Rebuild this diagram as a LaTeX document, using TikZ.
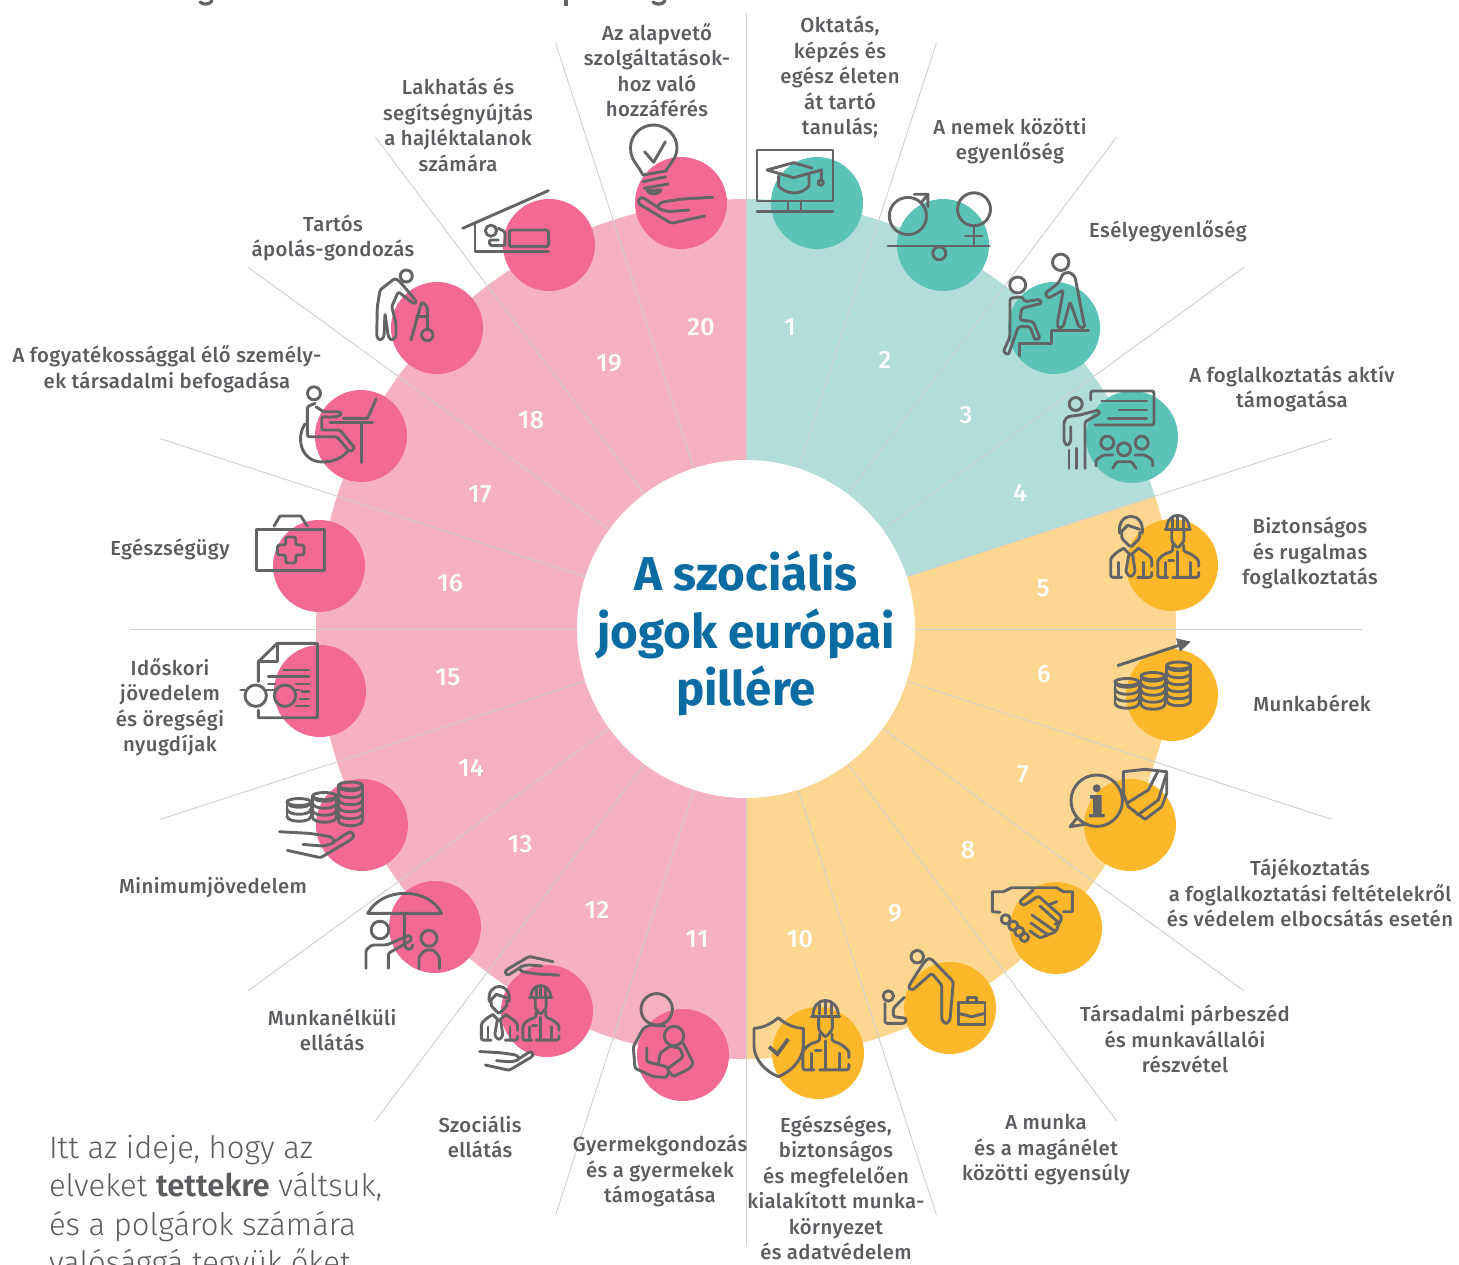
\documentclass[tikz,border=0pt]{standalone}
\usepackage{fontspec}
\setmainfont{Fira Sans}
\newfontfamily\lightfont{Fira Sans Light}[BoldFont={Fira Sans SemiBold}]
\newfontfamily\labfont{Fira Sans Medium}[LetterSpace=2]
\definecolor{pinklt}{HTML}{F5B0C2}
\definecolor{pinkdk}{HTML}{F26A94}
\definecolor{teallt}{HTML}{B2DDD8}
\definecolor{tealdk}{HTML}{5CC3B9}
\definecolor{yellt}{HTML}{FDD792}
\definecolor{yeldk}{HTML}{FDB72A}
\definecolor{icongrey}{HTML}{636466}
\definecolor{txtgrey}{HTML}{5C5C60}
\definecolor{rayline}{HTML}{CFCFCF}
\definecolor{titleblue}{HTML}{0A6CA3}
\tikzset{
  ic/.style={draw=icongrey,line width=2.9pt,line cap=round,line join=round},
  fig/.style={ic,rounded corners=2.2pt},
  bub/.style={inner sep=0pt,outer sep=0pt},
  lab/.style={inner sep=0pt,outer sep=0pt,align=center,text=txtgrey,font=\labfont\fontsize{20.3}{25.5}\selectfont},
  num/.style={inner sep=0pt,outer sep=0pt,text=white,font=\labfont\fontsize{25}{25}\selectfont},
  ray/.style={draw=rayline,line width=.9pt},
  pics/hand/.style={code={
    \draw[fig] (40.5,-12.7) -- (10,-11) -- (-11.3,-7.7) -- (-15,-2) -- (-4,1.7) -- (17,0);
    \draw[fig] (-15,-3.3) -- (-30,-13) -- (-34,-10) -- (-33,-6) -- (-0.6,13.3) -- (32.6,6);
  }},
  pics/worker/.style={code={
    \draw[ic] (-11,-49) .. controls (-11,-58) and (-6,-63) .. (0,-63) .. controls (6,-63) and (11.7,-58) .. (11.7,-49);
    \draw[ic] (-12.5,-49) -- (12.8,-49) (0,-63) -- (0,-51) (-5,-60) -- (-5,-51) (5.5,-60) -- (5.5,-51);
    \draw[fig] (-6,-48) -- (-6,-37) -- (0,-30) -- (6.3,-37) -- (6.3,-48);
    \draw[fig] (-5,-33) -- (-5,-27) -- (-14,-24) -- (-20,-18) -- (-20,-1) -- (-10,-1);
    \draw[fig] (-5,-1) -- (21,-1) -- (21,-6);
    \draw[fig] (21,-12) -- (21,-18) -- (14,-24) -- (6,-27) -- (6,-33);
    \draw[ic] (-12.5,-16) -- (-12.5,-1) (12.5,-16) -- (12.5,-1) (0,-27) -- (0,-1) (-9,-18) -- (-4,-18);
  }},
  pics/manfig/.style={code={
    \draw[ic] (-11,-45) .. controls (-13,-56) and (-6,-62) .. (0,-62) .. controls (7,-62) and (13,-56) .. (11.5,-45);
    \draw[fig] (-9,-46) -- (-9,-40) -- (0,-31) -- (9,-40) -- (9,-46);
    \draw[ic] (-9,-47) -- (-3,-53) -- (9,-49);
    \draw[ic] (-7,-30) -- (0,-23) -- (7.7,-30);
    \draw[fig] (-2,-23) -- (-5,-6) -- (0,-1) -- (4.5,-6) -- (2,-23);
    \draw[fig] (-7,-30) -- (-14,-26) -- (-20,-20) -- (-20,-1) -- (-9,-1);
    \draw[fig] (7,-1) -- (21,-1) -- (21,-6);
    \draw[fig] (21,-12) -- (21,-20) -- (14,-26) -- (7.7,-30);
    \draw[ic] (-12.5,-16) -- (-12.5,-1) (12.5,-16) -- (12.5,-1);
  }},
}
% centre x, top y, number of layers
\newcommand{\coinpile}[3]{%
  \draw[ic] (#1,#2+3.5) ellipse (12 and 3.5);
  \foreach \k in {1,...,#3}{
    \draw[ic] (#1-12,#2+3.5+7*\k-7) .. controls (#1-12,#2+7.5+7*\k-7+3) and (#1+12,#2+7.5+7*\k-7+3) .. (#1+12,#2+3.5+7*\k-7);
  }
  \draw[ic] (#1-12,#2+3.5) -- (#1-12,#2+3.5+7*#3-7);
  \draw[ic] (#1+12,#2+3.5) -- (#1+12,#2+3.5+7*#3-7);
}
\begin{document}
\begin{tikzpicture}[x=1pt,y=-1pt]
\useasboundingbox (0,0) rectangle (1459,1265);
\clip (0,0) rectangle (1459,1265);
\fill[white] (0,0) rectangle (1459,1265);
% sectors
\fill[pinklt] (746,629) -- plot[domain=90:270,samples=90] ({746+430*cos(\x)},{629+430*sin(\x)}) -- cycle;
\fill[teallt] (746,629) -- plot[domain=-90:-18,samples=40] ({746+430*cos(\x)},{629+430*sin(\x)}) -- cycle;
\fill[yellt] (746,629) -- plot[domain=-18:90,samples=60] ({746+430*cos(\x)},{629+430*sin(\x)}) -- cycle;
% rays
\foreach \a in {0,18,36,53,72,90,108,127,144,162,180,198,216,233,252,270,288,307,324,342}{
  \draw[ray] (746,629) -- ({746+616*cos(\a)},{629+616*sin(\a)});
}
% discs
\foreach \p in {(817,203),(943,245),(1054,328),(1132,437)} \fill[tealdk] \p circle (46);
\foreach \p in {(1172,565),(1172,695),(1130,825),(1056,928),(950,1008),(818,1053)} \fill[yeldk] \p circle (46);
\foreach \p in {(683,1055),(547,1011),(435,927),(362,825),(320,691),(319,566),(361,436),(437,328),(549,245),(681,203)} \fill[pinkdk] \p circle (46);
\fill[white] (746,629) circle (169);
% cropped heading remains
\draw[icongrey,line width=3.2pt,line cap=round] (200,2) .. controls (203,5) and (209,5) .. (212,1);
\draw[icongrey,line width=3.2pt] (566,0) -- (566,6);
\draw[icongrey,line width=3.2pt,line cap=round] (653,2) .. controls (656,5) and (662,5) .. (665,1);

% 1 screen and cap
\draw[ic] (757,150) rectangle (833,201);
\draw[ic] (788,201) -- (788,211.7) (801,201) -- (801,211.7) (757,211.7) -- (833,211.7);
\draw[ic] (812,168) -- (793.6,162.7) -- (767,170) -- (793.6,177.7) -- (821.4,170) -- (821.4,180);
\draw[ic] (778.6,176) -- (778.6,186) .. controls (782,190) and (788,193) .. (794.6,193) .. controls (800,193) and (806,190) .. (809,186) -- (809,175);
\draw[ic] (820.7,182.7) circle (2.6);
% 2 gender balance
\draw[ic] (907.9,216) circle (18.6);
\draw[ic] (920.7,203.3) -- (927.9,194.3) (914.3,194.3) -- (927.9,194.3) -- (927.9,206.7);
\draw[ic] (974,209.3) circle (16.5);
\draw[ic] (974,226) -- (974,244) (965.4,236) -- (982.1,236);
\draw[ic] (888,246) -- (989.3,246);
\draw[ic] (939.3,253.3) circle (6.5);
% 3 helping up stairs
\draw[ic] (1060.7,262.3) circle (8.2);
\draw[fig] (1063.3,273.3) -- (1058.3,283.3) -- (1045,293.3) -- (1048.3,298.3) -- (1063.3,290) -- (1057.3,323.3) -- (1058.3,328.3) -- (1063.3,326.7) -- (1070,301.7) -- (1079,327.3) -- (1085,327.3) -- (1083.3,320) -- (1075,276.7) -- (1070,272.3) -- cycle;
\draw[ic] (1017.7,285) circle (8);
\draw[fig] (1010,298.3) -- (1010,336.7) -- (1003.3,351.7) -- (1008.3,355) -- (1018.3,326.7) -- (1030,326.7) -- (1035,340) -- (1040,338.3) -- (1033.3,321.7) -- (1020,320) -- (1021.7,308.3) -- (1041.7,303.3) -- (1040,299.3) -- (1025,301.7) -- (1021.7,296.7) -- cycle;
\draw[ic] (1019.3,356) -- (1019.3,343.3) -- (1051.7,343.3) -- (1051.7,330.7) -- (1088.3,330.7);
% 4 teacher and audience
\draw[fig] (1090.7,400) -- (1090.7,391) -- (1154,391) -- (1154,425) -- (1095,425);
\draw[ic] (1101.7,401) -- (1146.7,401) (1119.3,410) -- (1146.7,410) (1108.3,418.3) -- (1146.7,418.3);
\draw[ic] (1075.7,404) circle (6.5);
\draw[fig] (1080,415) -- (1098.3,410) -- (1100,413.3) -- (1085,421.7) -- (1085,468.3);
\draw[fig] (1080,415) -- (1067.3,416.7) -- (1064,421.7) -- (1064,441.7) -- (1067.3,446) -- (1070.7,441.7) -- (1070.7,426.7);
\draw[ic] (1069,450) -- (1069,468.3) (1076.7,448.3) -- (1076.7,468.3);
\draw[ic] (1107.3,442.7) circle (6.5) (1124,449.3) circle (6.5) (1141.7,442.7) circle (6.5);
\draw[fig] (1096,466) -- (1096,460) -- (1103.3,455) -- (1113,455);
\draw[fig] (1112.7,468.3) -- (1116.7,461.7) -- (1131.7,461.7) -- (1136,468.3);
\draw[fig] (1135,455) -- (1145,455) -- (1152.7,460) -- (1152.7,466);
% 5 employee and worker
\pic at (1130.7,578.3) {manfig};
\pic at (1177.7,578.3) {worker};
% 6 coins and arrow
\coinpile{1127}{678.5}{4}
\coinpile{1153}{672.5}{5}
\coinpile{1178.7}{662}{6}
\draw[icongrey,line width=3pt] (1117.3,665.7) -- (1180,645);
\fill[icongrey] (1190.7,641.7) -- (1176,638.3) -- (1180,651.7) -- cycle;
% 7 information and shield
\draw[ic] (1096.7,800.7) circle (25.7);
\draw[ic] (1076.7,818.3) -- (1070,826.7) -- (1086.7,824);
\fill[icongrey] (1096.7,788.3) circle (4);
\fill[icongrey] (1090,795) -- (1101.7,795) -- (1101.7,814) -- (1104.5,814) -- (1104.5,817.3) -- (1089,817.3) -- (1089,814) -- (1093,814) -- (1093,798.5) -- (1090,798.5) -- cycle;
\draw[ic] (1123.3,771.7) -- (1145,769.3) -- (1166.7,771.7) -- (1166.7,793.3) -- (1161.7,806.7) -- (1145,819.3) -- (1128.3,806.7) -- (1123.3,793.3) -- cycle;
\draw[ic] (1126.7,803.3) -- (1148.3,790) -- (1157.7,771.7);
\draw[ic] (1137.7,815) -- (1158.3,800) -- (1166,775);
% 8 handshake
\draw[ic] (1000,912.3) -- (992.3,911.7) -- (992.3,891.7) -- (1003.3,891.7) -- (1011.7,887.7) -- (1056.7,887.7) -- (1063.3,891.7) -- (1072.3,891.7) -- (1072.3,911.7) -- (1063.3,911.7);
\draw[fig] (1033.3,890) -- (1019.3,901.7) -- (1023.3,905.7) -- (1038.3,896) -- (1061.7,916.7) -- (1060,923.3) -- (1055,924);
\draw[ic] (1056.7,901.7) -- (1048,905);
\draw[fig] (1040,906) -- (1059,923) -- (1056,932) -- (1032,915);
\draw[fig] (1055,932) -- (1048,935) -- (1031,923);
\draw[fig] (1048,935) -- (1040,938) -- (1030,931);
\draw[ic] (1005.7,919.3) circle (4.6) (1013.3,925.7) circle (4.6) (1019.3,931.7) circle (4.6) (1024.3,937.3) circle (4.2);
% 9 care for child, briefcase
\draw[ic] (917.3,956.7) circle (6.2);
\draw[fig] (928.3,958.3) -- (923.3,963.3) -- (910,984) -- (908.3,988.3) -- (912.7,990) -- (931.7,973.3) -- (941.7,985) -- (941.7,1020) -- (946,1024.3) -- (950,1020) -- (953.3,981.7) -- (931.7,959.3) -- cycle;
\draw[ic] (888.3,996) circle (5.2);
\draw[fig] (885,1003.3) -- (885,1023.3) -- (905,1023.3) -- (906.7,1018.3) -- (893.3,1016.7) -- (893.3,1008.3) -- (904.3,997.3);
\draw[ic] (958.3,1002.7) rectangle (985,1024.3);
\draw[ic] (967.3,1002.7) -- (967.3,997.3) -- (976.7,997.3) -- (976.7,1002.7);
\draw[ic] (958.3,1013.3) -- (971.7,1016.7) -- (985,1013.3);
% 10 shield and worker
\pic[scale=1.12] at (825.3,1071) {worker};
\draw[ic] (778.3,1017.7) .. controls (771,1024) and (763,1028) .. (754,1028.3) -- (754,1047) .. controls (755,1060) and (765,1071) .. (778.3,1076.7) .. controls (792,1071) and (802,1060) .. (803.3,1047) -- (803.3,1028.3) .. controls (794,1028) and (785,1024) .. (778.3,1017.7) -- cycle;
\draw[icongrey,line width=3.8pt] (769,1046.7) -- (777.3,1054) -- (788.3,1039);
% 11 parent and baby
\draw[ic] (656.7,1009.3) circle (15.7);
\draw[ic] (674,1036) circle (9.7);
\draw[fig] (665,1026) -- (650,1025) -- (643.3,1028.3) -- (633.3,1046.7) -- (635,1068.3) -- (653.3,1076.7) -- (666.7,1077.3) -- (669,1071.7) -- (666.7,1066.7) -- (646.7,1061.7) -- (646.7,1048);
\draw[fig] (683.3,1043.3) -- (693.3,1063.3) -- (690,1068.3) -- (673.3,1076.7) -- (669,1071.7);
\draw[fig] (658.3,1065) -- (660,1053.3) -- (670,1046) -- (680,1048.3) -- (683.3,1056.7) -- (668.3,1068.3);
% 12 protected employees
\pic[xscale=.72,yscale=-.72] at (529.5,966) {hand};
\pic[scale=.88] at (499,1041) {manfig};
\pic[scale=.88] at (540.5,1041) {worker};
\pic[xscale=-.72,yscale=.72] at (508.8,1060.7) {hand};
% 13 umbrella
\draw[ic] (367.7,913.3) .. controls (375,900) and (390,893.3) .. (405,893.3) .. controls (420,893.3) and (435,900) .. (441.7,913.3) -- cycle;
\draw[ic] (404.3,913.3) -- (404.3,943) .. controls (404.5,951) and (413,951) .. (412.7,945);
\draw[ic] (380,930) circle (8.8);
\draw[fig] (366,968.3) -- (366,950) -- (371.7,945) -- (386.7,945) -- (410,935) -- (411.7,940) -- (388.3,953.3) -- (388.3,968.3);
\draw[ic] (429,938.3) circle (8);
\draw[fig] (419,968.3) -- (419,956.7) -- (425,950) -- (433.3,950) -- (439.3,956.7) -- (439.3,968.3);
% 14 coins on hand
\coinpile{299}{798.5}{3}
\coinpile{324.5}{792.5}{4}
\coinpile{350.5}{782}{6}
\pic[xscale=-1] at (320,844.4) {hand};
% 15 document and glasses
\draw[ic] (258.3,681.7) -- (258.3,661.7) -- (277.3,643.3) -- (317.3,643.3) -- (317.3,717.7) -- (258.3,717.7) -- (258.3,710);
\draw[ic] (277.3,643.3) -- (277.3,661.7) -- (258.3,661.7);
\draw[ic] (283.3,670) -- (309,670) (268.3,676.7) -- (309,676.7) (268.3,684) -- (275,684) (296,684) -- (309,684) (301.7,691.7) -- (309,691.7) (300,699) -- (309,699) (296,706) -- (309,706);
\draw[ic] (255.7,695.7) circle (10.7) (285,695.7) circle (10.7);
\draw[ic] (265,690) -- (276.7,690) (240.7,690) -- (246.7,690) (294,690) -- (299.3,690);
% 16 first aid case
\draw[ic] (256.7,529.3) rectangle (324.3,570.7);
\draw[ic] (274,526) -- (280,516) -- (300.7,516) -- (307.3,526);
\draw[fig] (285.7,537) -- (295.7,537) -- (295.7,545) -- (304,545) -- (304,555) -- (295.7,555) -- (295.7,563) -- (285.7,563) -- (285.7,555) -- (277.5,555) -- (277.5,545) -- (285.7,545) -- cycle;
% 17 wheelchair at desk
\draw[ic] (314,393.3) circle (6.5);
\draw[fig] (315,403.3) -- (307.3,406.7) -- (307.3,436.7) -- (336.7,436.7) -- (350,451.7) -- (355,448.3) -- (340,430) -- (321.7,430) -- (321.7,416.7) -- (333.3,417.3) -- (341.7,415) -- (340,411.7) -- (323.3,411.7) -- (316,406.7);
\draw[ic] (305,424) .. controls (296,437) and (300,462) .. (323,462) .. controls (333,462) and (342,458) .. (347,452);
\draw[ic] (330,422.3) -- (372.7,422.3) (361.7,422.3) -- (361.7,462.7);
\draw[ic] (343.3,418.3) -- (367.7,418.3) -- (376,399);
% 18 walker
\draw[ic] (406.3,276) circle (6);
\draw[fig] (395,278.3) -- (380,290) -- (377.3,306.7) -- (376.7,336.7) -- (380,340.7) -- (384,336.7) -- (385,313.3) -- (388.3,336.7) -- (391.7,340.7) -- (396,336.7) -- (396,323.3) -- (391.7,306.7) -- (398.3,291.7) -- (414,304) -- (416.7,301.7) -- (400,281.7) -- cycle;
\draw[fig] (411,340) -- (421.7,301.7) -- (427.3,306.7) -- (427.3,329);
\draw[ic] (416.7,316.7) -- (427.3,316.7);
\draw[ic] (427.3,335) circle (5.7);
% 19 house and bed
\draw[ic] (462.7,228.3) -- (548.3,190.7);
\draw[ic] (475,223) -- (475,251.7) -- (548.3,251.7);
\draw[fig] (509.3,246.7) -- (509.3,230) -- (548.3,230) -- (548.3,246.7) -- cycle;
\draw[ic] (491,230.7) circle (5.6);
\draw[fig] (498.3,228.3) -- (505,231.7) -- (505,245.7) -- (490,245.7) -- (489,240) -- (498.3,240);
% 20 bulb and hand
\draw[ic] (643,175) .. controls (638,165) and (630.5,160) .. (630.5,148) .. controls (630.5,135) and (641,125) .. (653.6,125) .. controls (666,125) and (677,135) .. (677,148) .. controls (677,158) and (670,163) .. (666,171) -- cycle;
\draw[ic] (644.6,151.7) -- (653.6,162.3) -- (665.4,141.7);
\draw[ic] (643,181.7) -- (666,176.7) (644,188.3) -- (668,184);
\draw[ic] (647,190.7) -- (661,190) .. controls (660,194) and (650,196) .. (647,190.7) -- cycle;
\pic at (672,210) {hand};

% centre title
\node[bub,name=title,align=center,text=titleblue,font=\fontsize{47.5}{57.5}\bfseries\selectfont] at (746,633.5) {A szociális\\jogok európai\\pillére};
% numbers
\node[num] (n1) at (790,327) {1};
\node[num] (n2) at (885,360) {2};
\node[num] (n3) at (966,415) {3};
\node[num] (n4) at (1020,493) {4};
\node[num] (n5) at (1043,588) {5};
\node[num] (n6) at (1044,674) {6};
\node[num] (n7) at (1023,774) {7};
\node[num] (n8) at (968,850) {8};
\node[num] (n9) at (895,913) {9};
\node[num] (n10) at (800,939) {10};
\node[num] (n11) at (697,939) {11};
\node[num] (n12) at (597,910) {12};
\node[num] (n13) at (520,844) {13};
\node[num] (n14) at (471,768) {14};
\node[num] (n15) at (448,677) {15};
\node[num] (n16) at (450,583) {16};
\node[num] (n17) at (480,494) {17};
\node[num] (n18) at (531,420) {18};
\node[num] (n19) at (609,363) {19};
\node[num] (n20) at (701,327) {20};
% labels
\node[lab] (l1) at (840,77) {Oktatás,\\képzés és\\egész életen\\át tartó\\tanulás;};
\node[lab] (l2) at (1010,141) {A nemek közötti\\egyenlőség};
\node[lab] (l3) at (1168,231) {Esélyegyenlőség};
\node[lab] (l4) at (1292,389) {A foglalkoztatás aktív\\támogatása};
\node[lab] (l5) at (1310,553) {Biztonságos\\és rugalmas\\foglalkoztatás};
\node[lab] (l6) at (1312,703) {Munkabérek};
\node[lab] (l7) at (1310,893) {Tájékoztatás\\a foglalkoztatási feltételekről\\és védelem elbocsátás esetén};
\node[lab] (l8) at (1185,1039) {Társadalmi párbeszéd\\és munkavállalói\\részvétel};
\node[lab] (l9) at (1046,1150) {A munka\\és a magánélet\\közötti egyensúly};
\node[lab] (l10) at (836,1188) {Egészséges,\\biztonságos\\és megfelelően\\kialakított munka-\\környezet\\és adatvédelem};
\node[lab] (l11) at (660,1171) {Gyermekgondozás\\és a gyermekek\\támogatása};
\node[lab] (l12) at (480,1137) {Szociális\\ellátás};
\node[lab] (l13) at (332,1030) {Munkanélküli\\ellátás};
\node[lab] (l14) at (213,888) {Minimumjövedelem};
\node[lab] (l15) at (170,707) {Időskori\\jövedelem\\és öregségi\\nyugdíjak};
\node[lab] (l16) at (170,549) {Egészségügy};
\node[lab] (l17) at (167,369) {A fogyatékossággal élő személy-\\ek társadalmi befogadása};
\node[lab] (l18) at (333,238) {Tartós\\ápolás-gondozás};
\node[lab] (l19) at (458,125) {Lakhatás és\\segítségnyújtás\\a hajléktalanok\\számára};
\node[lab] (l20) at (657,70) {Az alapvető\\szolgáltatások-\\hoz való\\hozzáférés};
% slogan
\node[inner sep=0pt,outer sep=0pt,anchor=north west,align=left,text=txtgrey,font=\lightfont\fontsize{31}{38.5}\selectfont] (slogan) at (49,1135) {Itt az ideje, hogy az\\elveket \textbf{tettekre} váltsuk,\\és a polgárok számára\\valósággá tegyük őket.};
\end{tikzpicture}
\end{document}
